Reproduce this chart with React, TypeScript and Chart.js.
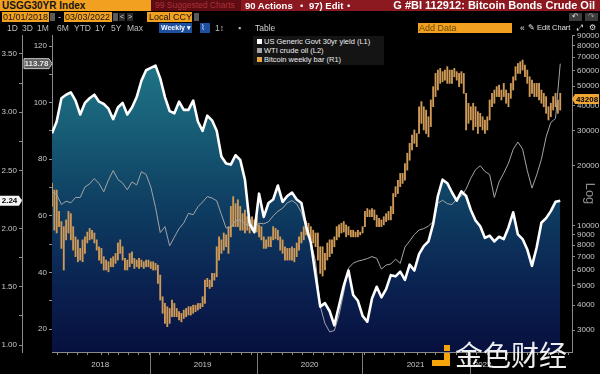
import React, { useEffect, useRef } from 'react';
import { Chart, registerables } from 'chart.js';

Chart.register(...registerables);

const FONT = "'Liberation Sans', Arial, Helvetica, sans-serif";

// ---------------- data ----------------
const yieldSeriesName = 'US Generic Govt 30yr yield (L1)';
const oilSeriesName = 'WTI crude oil (L2)';
const btcSeriesName = 'Bitcoin weekly bar (R1)';

// bi-weekly sample dates (week index counted from 01/01/2018)
const lineWeeks = Array.from({ length: 109 }, (_, i) => i * 2);

const yieldValues = [
  2.82, 2.92, 3.12, 3.15, 3.17, 3.10, 2.98, 3.08, 3.12, 3.15,
  3.09, 3.07, 3.03, 2.94, 3.04, 3.08, 2.98, 3.04, 3.13, 3.27,
  3.36, 3.38, 3.40, 3.29, 3.13, 3.01, 2.99, 3.09, 3.02, 3.02,
  3.10, 2.92, 2.84, 2.97, 2.93, 2.84, 2.62, 2.56, 2.55, 2.63,
  2.59, 2.42, 2.04, 1.97, 2.30, 2.10, 2.22, 2.25, 2.37, 2.23,
  2.28, 2.31, 2.25, 2.22, 2.02, 1.88, 1.60, 1.33, 1.36, 1.29,
  1.17, 1.34, 1.51, 1.64, 1.43, 1.38, 1.25, 1.20, 1.40, 1.50,
  1.41, 1.48, 1.60, 1.59, 1.63, 1.56, 1.69, 1.64, 1.78, 1.85,
  1.89, 2.04, 2.28, 2.42, 2.39, 2.31, 2.24, 2.32, 2.28, 2.16,
  2.07, 2.02, 1.92, 1.94, 1.89, 1.93, 1.91, 2.01, 2.14, 1.95,
  1.91, 1.82, 1.68, 1.84, 2.05, 2.09, 2.15, 2.23, 2.24,
];

const oilValues = [
  68.6, 67.5, 64.0, 65.2, 64.6, 66.5, 66.5, 70.2, 71.3, 73.2,
  71.4, 68.5, 72.7, 76.0, 72.9, 71.6, 69.2, 72.0, 70.9, 75.6,
  74.6, 70.2, 63.0, 54.1, 56.2, 49.4, 52.5, 55.5, 57.5, 60.9,
  60.4, 63.2, 64.9, 66.8, 66.3, 65.3, 60.5, 55.7, 55.9, 58.3,
  58.6, 57.2, 56.4, 55.8, 57.4, 57.2, 57.9, 60.0, 61.6, 62.7,
  64.6, 65.4, 64.2, 61.2, 55.8, 51.0, 44.0, 28.0, 22.0, 19.0,
  19.5, 25.0, 33.0, 41.5, 43.3, 44.0, 44.4, 44.9, 45.6, 45.0,
  41.2, 42.6, 43.0, 44.7, 43.2, 49.0, 51.1, 53.4, 55.0, 55.5,
  56.4, 58.0, 64.5, 65.5, 64.3, 64.0, 66.0, 67.0, 69.5, 73.3,
  76.3, 77.7, 75.7, 74.6, 66.5, 72.0, 75.1, 78.6, 83.5, 86.1,
  83.6, 76.0, 69.8, 74.5, 80.0, 87.9, 93.0, 94.4, 113.78,
];

// weekly bitcoin bars (week index counted from 01/01/2018)
const btcWeeks = Array.from({ length: 217 }, (_, i) => i);

const btcHigh = [
  16300, 15100, 15100, 11800, 10500, 9900, 10700, 11800, 11500, 9900,
  8800, 8500, 7700, 8500, 8800, 9300, 9700, 9500, 9200, 8500,
  7850, 7700, 7000, 6730, 6600, 6860, 7000, 7270, 8200, 8500,
  7850, 6860, 6730, 7270, 7400, 6860, 6730, 6860, 6730, 6600,
  6730, 6730, 6600, 6600, 6480, 6350, 5660, 4410, 4080, 3930,
  3850, 4240, 4080, 3850, 3710, 3640, 3780, 3850, 3930, 3930,
  4000, 4000, 4080, 4080, 4410, 5340, 5450, 5340, 5770, 5770,
  7850, 8800, 8500, 9200, 9000, 9900, 12500, 14000, 12900, 13500,
  12500, 11500, 12000, 11100, 10700, 11100, 10700, 11100, 10100, 9900,
  8800, 8500, 8800, 8800, 9900, 9700, 9500, 8800, 8500, 7850,
  7700, 7700, 7850, 7700, 8200, 8800, 9300, 9900, 10500, 10300,
  9900, 9500, 9200, 9200, 7850, 7850, 7270, 8200, 8500, 8500,
  8800, 9900, 10100, 10300, 10500, 10100, 9900, 9500, 9500, 9300,
  9500, 9300, 9900, 11800, 12200, 12000, 12200, 12000, 11300, 10900,
  10700, 11100, 11500, 11800, 12500, 14500, 15700, 16900, 18300, 18300,
  20500, 23100, 25900, 28500, 30200, 29000, 39500, 41900, 39500, 38000,
  35200, 42700, 49800, 58000, 60300, 61500, 59200, 60300, 62700, 60300,
  60300, 61500, 59200, 58000, 59200, 58000, 46100, 41100, 39500, 41100,
  39500, 37300, 36600, 35200, 33900, 35200, 42700, 46100, 47900, 49800,
  50700, 47900, 51700, 47900, 46100, 51700, 55800, 62700, 65100, 66400,
  67700, 63900, 60300, 55800, 53700, 51700, 51700, 51700, 47900, 46100,
  44400, 39500, 41100, 44400, 46100, 42700, 46100,
];

const btcLow = [
  12500, 9500, 9200, 9900, 7700, 6000, 8500, 9200, 8500, 7550,
  7000, 6600, 6730, 6600, 7270, 8200, 8500, 8600, 8200, 7550,
  6730, 6480, 6000, 6000, 5880, 6230, 6230, 6480, 6730, 7270,
  6730, 6000, 6000, 6230, 6480, 6110, 6230, 6110, 6230, 6110,
  6230, 6230, 6110, 6000, 6000, 5140, 4240, 3640, 3240, 3120,
  3240, 3500, 3500, 3500, 3370, 3300, 3430, 3500, 3570, 3570,
  3640, 3710, 3780, 3850, 3930, 4080, 4950, 4850, 4950, 5340,
  5550, 6730, 7270, 7550, 7850, 7270, 8800, 9900, 9900, 9900,
  9500, 9500, 9200, 9500, 9200, 9500, 9200, 9300, 8800, 8500,
  7700, 7700, 7850, 7850, 8500, 8600, 8500, 7550, 7270, 6730,
  6730, 6730, 6730, 6600, 7000, 7550, 8200, 8500, 9000, 8800,
  8500, 8200, 7850, 6730, 5770, 5600, 6000, 6730, 7000, 7270,
  7850, 8500, 8800, 9200, 9300, 8800, 9000, 8800, 8800, 8800,
  8800, 9000, 9200, 9900, 11100, 11100, 11100, 10700, 9900, 9900,
  9900, 10100, 10500, 10700, 10700, 11500, 14000, 14500, 15700, 16300,
  16900, 19000, 21300, 24000, 25900, 24900, 29000, 32600, 30200, 29000,
  27900, 31400, 39500, 44400, 47900, 51700, 52700, 53700, 51700, 51700,
  51700, 55800, 53700, 49800, 51700, 46100, 30200, 32600, 33900, 30200,
  31400, 29000, 31400, 30200, 29000, 30200, 33900, 39500, 41100, 44400,
  44400, 42700, 44400, 41100, 39500, 43500, 47900, 53700, 58000, 58000,
  60300, 55800, 51700, 44400, 46100, 44400, 44400, 42700, 41100, 39500,
  36600, 33900, 35200, 38000, 39500, 36600, 38000,
];
const btcLastClose = 43208;

// axis ticks / labels
const yieldTicks = [1, 1.25, 1.5, 1.75, 2, 2.25, 2.5, 2.75, 3, 3.25, 3.5];
const oilTicks = [20, 30, 40, 50, 60, 70, 80, 90, 100, 110, 120];
const btcTicks = [3000, 4000, 5000, 6000, 7000, 8000, 9000, 10000, 20000, 30000, 40000, 50000, 60000, 70000, 80000, 90000];
const yearLabels = ['2018', '2019', '2020', '2021', '2022'];
const yearLabelWeeks = [20.5, 64.0, 109.5, 154.5, 183.0];
const yearSeparatorWeeks = [41.7, 87.2, 131.8, 177.7];
const monthTickWeeks = Array.from({ length: 51 }, (_, m) => (m * 52.18) / 12);

// ---------------- helpers ----------------
const AXIS_GRAY = '#8a8a8a';
const LABEL_GRAY = '#c8c8c8';

function areaGradient(c: any) {
  const chart = c.chart;
  const area = chart.chartArea;
  if (!area) return '#124a6a';
  const g = chart.ctx.createLinearGradient(0, area.top, 0, area.bottom);
  g.addColorStop(0, '#237d8a');
  g.addColorStop(0.25, '#19637a');
  g.addColorStop(0.52, '#0f4063');
  g.addColorStop(0.8, '#0a2150');
  g.addColorStop(1, '#07103e');
  return g;
}

function drawBadge(ctx: any, text: string, cy: number, x0: number, x1: number, tip: number, fill: string, color: string, stroke: string | null) {
  const h = 5;
  ctx.beginPath();
  if (tip > x1) {
    ctx.moveTo(x0, cy - h); ctx.lineTo(x1, cy - h); ctx.lineTo(tip, cy); ctx.lineTo(x1, cy + h); ctx.lineTo(x0, cy + h);
  } else {
    ctx.moveTo(tip, cy); ctx.lineTo(x0, cy - h); ctx.lineTo(x1, cy - h); ctx.lineTo(x1, cy + h); ctx.lineTo(x0, cy + h);
  }
  ctx.closePath();
  ctx.fillStyle = fill;
  ctx.fill();
  if (stroke) { ctx.strokeStyle = stroke; ctx.lineWidth = 1; ctx.stroke(); }
  ctx.fillStyle = color;
  ctx.font = `bold 8px ${FONT}`;
  ctx.textAlign = 'center';
  ctx.textBaseline = 'middle';
  ctx.fillText(text, (x0 + x1) / 2, cy + 0.5);
}

const overlayPlugin = {
  id: 'bbgOverlay',
  afterDraw(chart: any) {
    const { ctx, chartArea, scales } = chart;
    ctx.save();
    ctx.strokeStyle = '#7c7c7c';
    ctx.lineWidth = 1;
    yearSeparatorWeeks.forEach((w) => {
      const px = Math.round(scales.x.getPixelForValue(w)) + 0.5;
      ctx.beginPath();
      ctx.moveTo(px, chartArea.bottom);
      ctx.lineTo(px, chart.height);
      ctx.stroke();
    });
    const lastYield = yieldValues[yieldValues.length - 1];
    const lastOil = oilValues[oilValues.length - 1];
    const yl1 = scales.yL1, yl2 = scales.yL2, yr = scales.yR;
    drawBadge(ctx, lastYield.toFixed(2), yl1.getPixelForValue(lastYield), yl1.left, yl1.right - 3, yl1.right, '#f4f4f4', '#000', null);
    drawBadge(ctx, lastOil.toFixed(2), yl2.getPixelForValue(lastOil), yl2.left + 2, yl2.right - 3, yl2.right, '#5e5e5e', '#e6e6e6', '#c8c8c8');
    drawBadge(ctx, String(btcLastClose), yr.getPixelForValue(btcLastClose), yr.left + 3, yr.right - 1, yr.left, '#f0a534', '#000', null);
    ctx.restore();
  },
};

function setTicks(values: number[]) {
  return (scale: any) => {
    scale.ticks = values.map((v) => ({ value: v }));
  };
}

const tickFont = { family: FONT, size: 8 };

// ---------------- UI bits ----------------
const Box = ({ l, t, w, h, bg, c, fs = 9, fw = 400, pl = 2, ta = 'left', ff, children }: any) => (
  <div
    style={{
      position: 'absolute', left: l, top: t, width: w, height: h, background: bg, color: c,
      fontSize: fs, fontWeight: fw, lineHeight: h + 'px', paddingLeft: pl, boxSizing: 'border-box',
      whiteSpace: 'nowrap', overflow: 'hidden', textAlign: ta, fontFamily: ff || FONT,
    }}
  >
    {children}
  </div>
);

const Txt = ({ l, t, c = '#bdbdbd', fs = 8.5, fw = 400, children }: any) => (
  <div style={{ position: 'absolute', left: l, top: t, color: c, fontSize: fs, fontWeight: fw, lineHeight: '10px', whiteSpace: 'nowrap', fontFamily: FONT }}>
    {children}
  </div>
);

const ORANGE = '#f2a01f';
const RED = '#8c1920';

export default function App() {
  const ref = useRef<HTMLCanvasElement | null>(null);

  useEffect(() => {
    if (!ref.current) return;
    const chart = new Chart(ref.current, {
      type: 'bar',
      data: {
        datasets: [
          {
            type: 'line',
            label: yieldSeriesName,
            data: lineWeeks.map((w, i) => ({ x: w, y: yieldValues[i] })),
            yAxisID: 'yL1',
            borderColor: '#ffffff',
            borderWidth: 2.6,
            borderJoinStyle: 'round',
            pointRadius: 0,
            tension: 0,
            fill: 'start',
            backgroundColor: areaGradient,
          } as any,
          {
            type: 'line',
            label: oilSeriesName,
            data: lineWeeks.map((w, i) => ({ x: w, y: oilValues[i] })),
            yAxisID: 'yL2',
            borderColor: '#a4a4a4',
            borderWidth: 1,
            pointRadius: 0,
            tension: 0,
            fill: false,
          } as any,
          {
            type: 'bar',
            label: btcSeriesName,
            data: btcWeeks.map((w, i) => ({ x: w, y: [btcLow[i], btcHigh[i]] })),
            yAxisID: 'yR',
            backgroundColor: '#cf9a58',
            borderWidth: 0,
            barThickness: 1.2,
            grouped: false,
          } as any,
        ],
      },
      options: {
        responsive: false,
        animation: false,
        devicePixelRatio: 1,
        events: [],
        layout: { padding: { top: 35, left: 0, right: 0, bottom: 0 } },
        plugins: {
          legend: { display: false },
          tooltip: { enabled: false },
          filler: { drawTime: 'beforeDatasetsDraw' },
        } as any,
        scales: {
          x: {
            type: 'linear',
            min: 0,
            max: 221,
            offset: false,
            afterBuildTicks: (scale: any) => {
              const vals = [...monthTickWeeks, ...yearLabelWeeks].sort((a, b) => a - b);
              scale.ticks = vals.map((v) => ({ value: v }));
            },
            afterFit: (s: any) => { s.height = 22; },
            ticks: {
              autoSkip: false,
              maxRotation: 0,
              color: LABEL_GRAY,
              font: tickFont,
              padding: 5,
              callback: (v: any) => {
                const idx = yearLabelWeeks.indexOf(Number(v));
                return idx >= 0 ? yearLabels[idx] : '';
              },
            },
            grid: {
              display: true,
              drawOnChartArea: false,
              drawTicks: true,
              tickLength: 3,
              color: AXIS_GRAY,
              tickColor: (c: any) => (c.tick && yearLabelWeeks.indexOf(c.tick.value) >= 0 ? 'rgba(0,0,0,0)' : AXIS_GRAY),
            },
            border: { display: true, color: AXIS_GRAY },
          } as any,
          yL1: {
            type: 'linear',
            position: 'left',
            weight: 1,
            min: 0.94,
            max: 3.663,
            afterBuildTicks: setTicks(yieldTicks),
            afterFit: (s: any) => { s.width = 22; },
            ticks: {
              autoSkip: false,
              color: LABEL_GRAY,
              font: tickFont,
              padding: 2,
              callback: (v: any) => (Math.abs(v * 2 - Math.round(v * 2)) < 1e-6 ? Number(v).toFixed(2) : ''),
            },
            grid: { display: true, drawOnChartArea: false, drawTicks: true, tickLength: 3, color: AXIS_GRAY },
            border: { display: true, color: AXIS_GRAY },
          } as any,
          yL2: {
            type: 'linear',
            position: 'left',
            weight: 0,
            min: 11.9,
            max: 123.9,
            afterBuildTicks: setTicks(oilTicks),
            afterFit: (s: any) => { s.width = 30; },
            ticks: {
              autoSkip: false,
              color: LABEL_GRAY,
              font: tickFont,
              padding: 2,
              callback: (v: any) => (Number(v) % 20 === 0 ? String(v) : ''),
            },
            grid: { display: true, drawOnChartArea: false, drawTicks: true, tickLength: 3, color: AXIS_GRAY },
            border: { display: true, color: AXIS_GRAY },
          } as any,
          yR: {
            type: 'logarithmic',
            position: 'right',
            min: 2330,
            max: 90370,
            afterBuildTicks: setTicks(btcTicks),
            afterFit: (s: any) => { s.width = 28; },
            ticks: {
              autoSkip: false,
              color: LABEL_GRAY,
              font: tickFont,
              padding: 2,
              callback: (v: any) => String(v),
            },
            title: {
              display: true,
              text: 'Log',
              color: '#8e8e8e',
              font: { family: FONT, size: 13 },
              padding: { top: 3, bottom: 0 },
            },
            grid: { display: true, drawOnChartArea: false, drawTicks: true, tickLength: 3, color: AXIS_GRAY },
            border: { display: true, color: AXIS_GRAY },
          } as any,
        },
      } as any,
      plugins: [overlayPlugin],
    } as any);
    return () => chart.destroy();
  }, []);

  const sq = (color: string) => (
    <span style={{ display: 'inline-block', width: 5, height: 5, background: color, marginRight: 2, verticalAlign: 'middle', position: 'relative', top: -1 }} />
  );

  return (
    <div style={{ position: 'fixed', left: 0, top: 0, width: 600, height: 374, background: '#000', overflow: 'hidden', fontFamily: FONT }}>
      <canvas ref={ref} width={600} height={374} style={{ position: 'absolute', left: 0, top: 0, width: 600, height: 374 }} />

      {/* header row 1 */}
      <Box l={0} t={0} w={151} h={11} bg={ORANGE} c="#151515" fs={10} fw={700}>USGG30YR Index</Box>
      <Box l={151} t={0} w={90} h={11} bg="#5e0c12" c="#a83038" fs={8.5} pl={4}>99 Suggested Charts</Box>
      <Box l={241} t={0} w={359} h={11} bg={RED} c="#fff" fs={9.5} pl={0}> </Box>
      <Txt l={245} t={0.5} c="#fff" fs={9.5} fw={700}>90 Actions</Txt>
      <Txt l={300} t={0.5} c="#fff" fs={9.5}>•</Txt>
      <Txt l={309} t={0.5} c="#fff" fs={9.5} fw={700}>97) Edit</Txt>
      <Txt l={347} t={0.5} c="#fff" fs={9.5}>•</Txt>
      <div style={{ position: 'absolute', right: 5, top: 0, height: 11, lineHeight: '11px', color: '#fff', fontSize: 11, fontWeight: 700, fontFamily: FONT, whiteSpace: 'nowrap' }}>
        G #BI 112912: Bitcoin Bonds Crude Oil
      </div>

      {/* header row 2 */}
      <Box l={2} t={12} w={47} h={10} bg={ORANGE} c="#151515" fs={9} pl={1}>01/01/2018</Box>
      <Box l={50} t={13} w={5} h={8} bg="#5a5a5a" />
      <Txt l={58} t={12} c="#ddd" fs={9}>-</Txt>
      <Box l={64} t={12} w={48} h={10} bg={ORANGE} c="#151515" fs={9} pl={1}>03/03/2022</Box>
      <Box l={113} t={13} w={5} h={8} bg="#5a5a5a" />
      <Box l={119} t={13} w={6} h={8} bg="#2c2c2c" c="#ddd" fs={7} pl={1}>&lt;</Box>
      <Box l={127} t={13} w={6} h={8} bg="#2c2c2c" c="#ddd" fs={7} pl={1}>&gt;</Box>
      <Box l={147} t={12} w={45} h={10} bg={ORANGE} c="#151515" fs={9} pl={2}>Local CCY</Box>
      <Box l={194} t={13} w={5} h={8} bg="#5a5a5a" />
      <Box l={569} t={13} w={13} h={8} bg="#3c3c3c" c="#ddd" fs={8} pl={3} ff="'DejaVu Sans', sans-serif">↶</Box>
      <Box l={585} t={13} w={13} h={8} bg="#3c3c3c" c="#999" fs={8} pl={3} ff="'DejaVu Sans', sans-serif">↷</Box>

      {/* header row 3 */}
      <Txt l={7} t={23}>1D</Txt>
      <Txt l={22} t={23}>3D</Txt>
      <Txt l={37} t={23}>1M</Txt>
      <Txt l={57} t={23}>6M</Txt>
      <Txt l={74} t={23}>YTD</Txt>
      <Txt l={95} t={23}>1Y</Txt>
      <Txt l={111} t={23}>5Y</Txt>
      <Txt l={127} t={23}>Max</Txt>
      <Box l={159} t={23} w={33} h={10} bg="#1d4f9e" c="#fff" fs={7} fw={700} pl={2}>Weekly ▾</Box>
      <Box l={200} t={23} w={10} h={10} bg="#1d4f9e" c="#cfe0ff" fs={8} pl={1} ff="'DejaVu Sans', sans-serif">⌇</Box>
      <Txt l={215} t={23}>1↕</Txt>
      <Txt l={238} t={23}>▪</Txt>
      <Txt l={255} t={23} c="#d0d0d0">Table</Txt>
      <Box l={418} t={23} w={94} h={10} bg={ORANGE} c="#6b4a00" fs={9} pl={1}>Add Data</Box>
      <Txt l={520} t={23} c="#e0e0e0" fs={8.5}>«</Txt>
      <Txt l={528} t={23} c="#e0e0e0" fs={7.5}>✎ Edit Chart</Txt>
      <Txt l={577} t={23} c="#e0e0e0" fs={8}>⤢</Txt>
      <Txt l={589} t={23} c="#e0e0e0" fs={8}>⚙</Txt>

      {/* legend */}
      <div style={{ position: 'absolute', left: 253, top: 36, width: 131, height: 29, background: '#141414', padding: '1px 0 0 4px', boxSizing: 'border-box', fontFamily: FONT, fontSize: 7.5, lineHeight: '9px', color: '#ececec' }}>
        <div>{sq('#ffffff')}{yieldSeriesName}</div>
        <div>{sq('#a4a4a4')}{oilSeriesName}</div>
        <div>{sq('#e8a53c')}{btcSeriesName}</div>
      </div>

      {/* watermark */}
      <div style={{ position: 'absolute', left: 444, top: 345, width: 6, height: 6, background: '#f5a40c' }} />
      <div style={{ position: 'absolute', left: 444, top: 353, width: 6, height: 13, background: '#f5a40c' }} />
      <div style={{ position: 'absolute', left: 432, top: 360, width: 18, height: 6, background: '#f5a40c' }} />
      <div style={{ position: 'absolute', left: 455, top: 337, color: 'rgba(255,255,255,0.93)', fontSize: 28, lineHeight: '34px', fontFamily: "'Noto Sans CJK SC', sans-serif", whiteSpace: 'nowrap' }}>
        金色财经
      </div>
    </div>
  );
}
